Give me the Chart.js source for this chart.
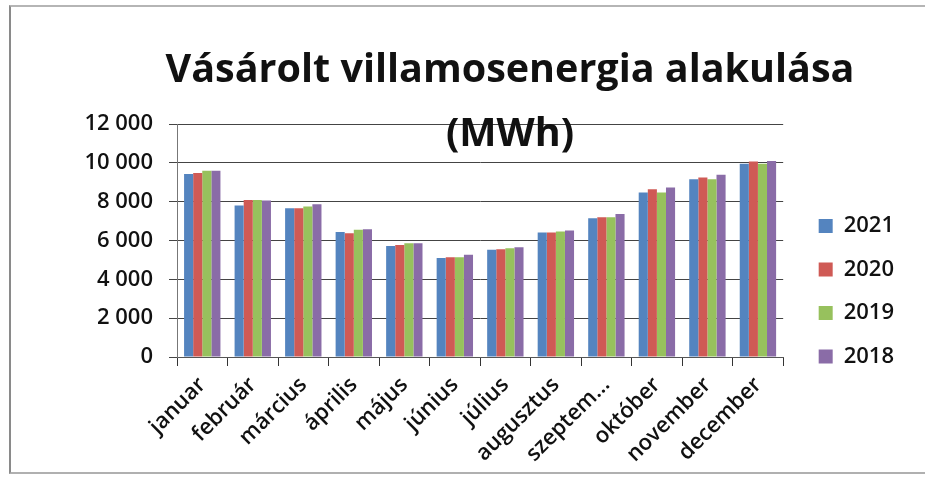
<!DOCTYPE html>
<html>
<head>
<meta charset="utf-8">
<script src="https://cdn.jsdelivr.net/npm/chart.js@4.4.1/dist/chart.umd.min.js"></script>
<style>
  html, body { margin: 0; padding: 0; background: #fff; }
  #wrap { position: relative; width: 925px; height: 484px; }
  #frame {
    position: absolute; left: 9px; top: 5px; width: 930px; height: 465px;
    border-top: 2px solid #b5b5b5; border-left: 2px solid #8a8a8a; border-bottom: 2px solid #b0b0b0;
    pointer-events: none;
  }
</style>
</head>
<body>
<div id="wrap">
  <canvas id="myBarChart" width="925" height="484"></canvas>
  <div id="frame"></div>
</div>
<script>
// chart data
const months = ['januar', 'február', 'március', 'április', 'május', 'június',
  'július', 'augusztus', 'szeptem...', 'október', 'november', 'december'];
const years = ['2021', '2020', '2019', '2018'];
const mwh2021 = [9430, 7800, 7660, 6440, 5720, 5100, 5520, 6410, 7150, 8470, 9160, 9950];
const mwh2020 = [9470, 8090, 7660, 6370, 5770, 5140, 5550, 6410, 7200, 8640, 9240, 10070];
const mwh2019 = [9590, 8090, 7750, 6550, 5860, 5140, 5600, 6460, 7200, 8470, 9160, 9950];
const mwh2018 = [9590, 8060, 7870, 6580, 5860, 5260, 5650, 6510, 7370, 8730, 9380, 10100];
const titleLines = ['Vásárolt villamosenergia alakulása', '(MWh)'];

const colors = ['#5484bf', '#cf5a55', '#97c15d', '#8a6ca7'];
const FONT = '"Open Sans", Lato, sans-serif';

// title is drawn on top so that "(MWh)" overlaps the plot like in the original
const titlePlugin = {
  id: 'titlePlugin',
  afterDraw: function(chart) {
    const ctx = chart.ctx;
    ctx.save();
    ctx.fillStyle = '#111';
    ctx.textAlign = 'center';
    ctx.textBaseline = 'alphabetic';
    ctx.font = 'bold 39.5px ' + FONT;
    ctx.fillText(titleLines[0], 510, 82);
    ctx.fillText(titleLines[1], 510, 146);
    ctx.restore();
  }
};

// nudge the legend up/right to where it sits in the original
const legendShift = {
  id: 'legendShift',
  afterLayout: function(chart) {
    const lg = chart.legend;
    lg.top -= 95; lg.bottom -= 95;
    lg.left += 14; lg.right += 14;
  }
};

function spaced(v) {
  return String(v).replace(/\B(?=(\d{3})+(?!\d))/g, ' ');
}

const ctx = document.getElementById('myBarChart').getContext('2d');
const myBarChart = new Chart(ctx, {
  type: 'bar',
  data: {
    labels: months,
    datasets: [mwh2021, mwh2020, mwh2019, mwh2018].map(function(d, i) {
      return {
        label: years[i],
        data: d,
        backgroundColor: colors[i],
        borderWidth: 0,
        barPercentage: 1.0,
        categoryPercentage: 0.72
      };
    })
  },
  plugins: [titlePlugin, legendShift],
  options: {
    responsive: false,
    animation: false,
    layout: { padding: { left: 0, top: 124, right: 35, bottom: 0 } },
    plugins: {
      legend: {
        position: 'right',
        align: 'end',
        labels: {
          boxWidth: 14,
          boxHeight: 14,
          padding: 21.5,
          color: '#111',
          font: { family: FONT, size: 22, weight: '600' }
        }
      },
      tooltip: { enabled: false }
    },
    scales: {
      x: {
        afterFit: function(scale) { scale.height = 484 - 357; },
        grid: {
          offset: true,
          drawOnChartArea: false,
          drawTicks: true,
          tickLength: 9,
          color: '#333'
        },
        border: { display: true, color: '#555', width: 1 },
        ticks: {
          minRotation: 45,
          maxRotation: 45,
          autoSkip: false,
          padding: 6,
          color: '#111',
          font: { family: FONT, size: 22, weight: '600' }
        }
      },
      y: {
        min: 0,
        max: 12000,
        afterFit: function(scale) { scale.width = 177; },
        grid: {
          color: '#444',
          lineWidth: 1,
          tickLength: 8
        },
        border: { display: true, color: '#777', width: 1 },
        ticks: {
          stepSize: 2000,
          padding: 16,
          color: '#111',
          font: { family: FONT, size: 22, weight: '600' },
          callback: function(v) { return spaced(v); }
        }
      }
    }
  }
});
</script>
</body>
</html>
